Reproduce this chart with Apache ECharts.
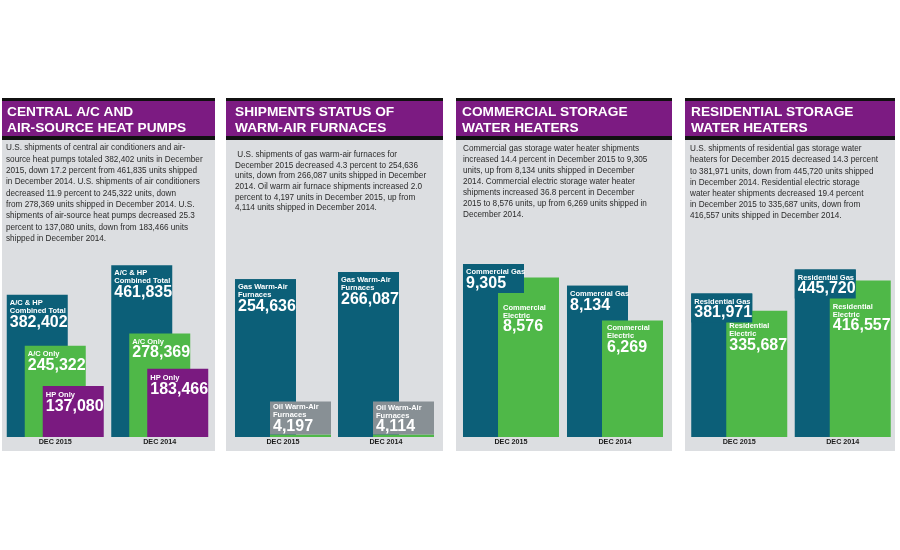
<!DOCTYPE html>
<html>
<head>
<meta charset="utf-8">
<title>AHRI December shipments</title>
<script src="https://cdn.jsdelivr.net/npm/echarts@6/dist/echarts.min.js"></script>
<style>
  html, body { margin: 0; padding: 0; background: #fff; }
  #chart { width: 900px; height: 550px; }
</style>
</head>
<body>
<div id="chart"></div>
<script>
// data
const categories = ['DEC 2015', 'DEC 2014'];
const acHpTotal = [382402, 461835];
const acOnly = [245322, 278369];
const hpOnly = [137080, 183466];
const gasFurnace = [254636, 266087];
const oilFurnace = [4197, 4114];
const commGas = [9305, 8134];
const commElectric = [8576, 6269];
const resGas = [381971, 445720];
const resElectric = [335687, 416557];

const titles = [
  'CENTRAL A/C AND\nAIR-SOURCE HEAT PUMPS',
  'SHIPMENTS STATUS OF\nWARM-AIR FURNACES',
  'COMMERCIAL STORAGE\nWATER HEATERS',
  'RESIDENTIAL STORAGE\nWATER HEATERS'
];
const blurbs = [
  [
    'U.S. shipments of central air conditioners and air-',
    'source heat pumps totaled 382,402 units in December',
    '2015, down 17.2 percent from 461,835 units shipped',
    'in December 2014. U.S. shipments of air conditioners',
    'decreased 11.9 percent to 245,322 units, down',
    'from 278,369 units shipped in December 2014. U.S.',
    'shipments of air-source heat pumps decreased 25.3',
    'percent to 137,080 units, down from 183,466 units',
    'shipped in December 2014.'
  ],
  [
    ' U.S. shipments of gas warm-air furnaces for',
    'December 2015 decreased 4.3 percent to 254,636',
    'units, down from 266,087 units shipped in December',
    '2014. Oil warm air furnace shipments increased 2.0',
    'percent to 4,197 units in December 2015, up from',
    '4,114 units shipped in December 2014.'
  ],
  [
    'Commercial gas storage water heater shipments',
    'increased 14.4 percent in December 2015 to 9,305',
    'units, up from 8,134 units shipped in December',
    '2014. Commercial electric storage water heater',
    'shipments increased 36.8 percent in December',
    '2015 to 8,576 units, up from 6,269 units shipped in',
    'December 2014.'
  ],
  [
    'U.S. shipments of residential gas storage water',
    'heaters for December 2015 decreased 14.3 percent',
    'to 381,971 units, down from 445,720 units shipped',
    'in December 2014. Residential electric storage',
    'water heater shipments decreased 19.4 percent',
    'in December 2015 to 335,687 units, down from',
    '416,557 units shipped in December 2014.'
  ]
];

// look
const FONT = '"Liberation Sans", Arial, sans-serif';
const TEAL = '#0c5f78';
const GREEN = '#4fb848';
const PURPLE = '#7a1a80';
const OIL_GRAY = '#889095';
const PANEL_GRAY = '#dcdee1';

const panels = [
  { x: 2, w: 213, tx: 7, px: 6, py: 142.5, lh: 11.3 },
  { x: 226, w: 217, tx: 235, px: 235, py: 149.7, lh: 10.6 },
  { x: 456, w: 216, tx: 462, px: 463, py: 143.5, lh: 11 },
  { x: 685, w: 210, tx: 691, px: 690, py: 143.5, lh: 11.1 }
];

const fmt = v => String(v).replace(/\B(?=(\d{3})+(?!\d))/g, ',');

function barLabel(lines, extra) {
  const head = lines.map(l => '{s|' + l + '}').join('\n');
  return Object.assign({
    show: true,
    position: 'insideTopLeft',
    distance: 0,
    padding: [4, 3, 2, 3],
    formatter: p => head + '\n{n|' + fmt(p.value) + '}',
    rich: {
      s: { color: '#fff', fontSize: 7.5, fontWeight: 'bold', lineHeight: 8, fontFamily: FONT, align: 'left' },
      n: { color: '#fff', fontSize: 16, fontWeight: 'bold', lineHeight: 15, fontFamily: FONT, align: 'left' }
    }
  }, extra || {});
}

function bars(idx, values, color, label, gap, shifts) {
  return {
    type: 'bar',
    xAxisIndex: idx,
    yAxisIndex: idx,
    barWidth: 61,
    barGap: gap,
    itemStyle: { color: color },
    label: label,
    silent: true,
    data: values.map((v, i) => shifts ? { value: v, label: { offset: [0, shifts[i]] } } : v)
  };
}

const tealBox = { backgroundColor: TEAL, width: 55 };
const oilLabel = barLabel(['Oil Warm-Air', 'Furnaces'], {
  position: 'top',
  backgroundColor: OIL_GRAY,
  width: 55,
  padding: [2, 3, 0, 3]
});

const gridLefts = [3, 231.5, 459, 687.5];
const gridWidths = [209, 206, 208, 207];
const yMax = [500000, 300000, 10000, 495000];

const graphic = [];
panels.forEach((p, i) => {
  graphic.push(
    { type: 'rect', shape: { x: p.x, y: 140, width: p.w, height: 311 }, style: { fill: PANEL_GRAY } },
    { type: 'rect', shape: { x: p.x, y: 98, width: p.w, height: 42 }, style: { fill: '#111' } },
    { type: 'rect', shape: { x: p.x, y: 101, width: p.w, height: 35 }, style: { fill: '#7c1b82' } },
    {
      type: 'text', x: p.tx, y: 104,
      style: { text: titles[i], fill: '#fff', font: 'bold 13.7px ' + FONT, lineHeight: 16, verticalAlign: 'top' }
    },
    {
      type: 'text', x: p.px, y: p.py,
      style: { text: blurbs[i].join('\n'), fill: '#2b2b2b', font: '8.2px ' + FONT, lineHeight: p.lh, verticalAlign: 'top' }
    }
  );
});

const option = {
  animation: false,
  backgroundColor: '#fff',
  graphic: graphic,
  grid: gridLefts.map((l, i) => ({ left: l, width: gridWidths[i], top: 251, height: 186 })),
  xAxis: gridLefts.map((l, i) => ({
    type: 'category',
    gridIndex: i,
    data: categories,
    axisLine: { show: false },
    axisTick: { show: false },
    axisLabel: { color: '#1c1c1c', fontSize: 7.2, fontWeight: 'bold', fontFamily: FONT, margin: 2 }
  })),
  yAxis: yMax.map((m, i) => ({ type: 'value', gridIndex: i, min: 0, max: m, show: false, splitLine: { show: false } })),
  series: [
    bars(0, acHpTotal, TEAL, barLabel(['A/C & HP', 'Combined Total']), '-70.5%'),
    bars(0, acOnly, GREEN, barLabel(['A/C Only']), '-70.5%'),
    bars(0, hpOnly, PURPLE, barLabel(['HP Only'], { padding: [5, 3, 2, 3] }), '-70.5%'),

    bars(1, gasFurnace, TEAL, barLabel(['Gas Warm-Air', 'Furnaces'], tealBox), '-42.6%'),
    bars(1, oilFurnace, GREEN, oilLabel, '-42.6%'),

    bars(2, commGas, TEAL, barLabel(['Commercial Gas'], tealBox), '-42.6%'),
    bars(2, commElectric, GREEN, barLabel(['Commercial', 'Electric'], { padding: [4, 5, 2, 5] }), '-42.6%', [22, 0]),

    bars(3, resGas, TEAL, barLabel(['Residential Gas'], tealBox), '-42.6%'),
    bars(3, resElectric, GREEN, barLabel(['Residential', 'Electric']), '-42.6%', [7, 18])
  ]
};

const chart = echarts.init(document.getElementById('chart'), null, { renderer: 'canvas' });
chart.setOption(option);
</script>
</body>
</html>
